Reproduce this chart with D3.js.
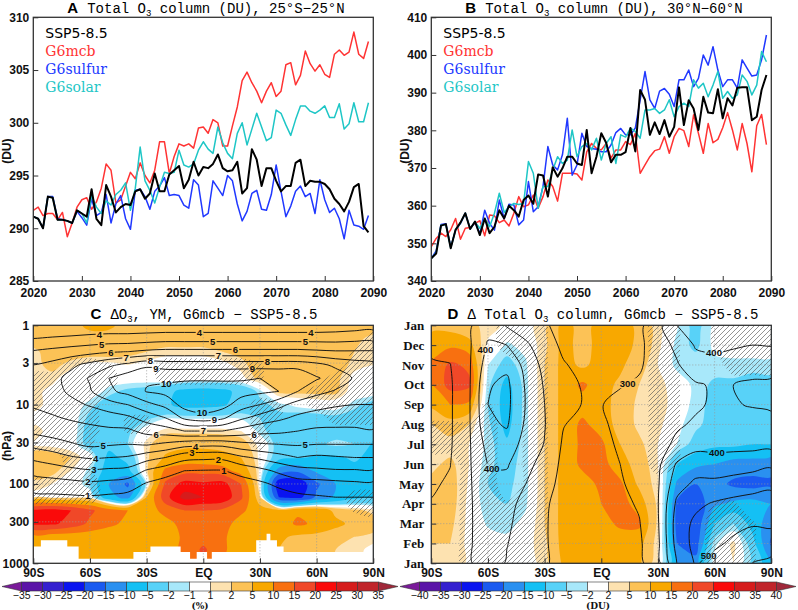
<!DOCTYPE html>
<html>
<head>
<meta charset="utf-8">
<script src="https://cdn.jsdelivr.net/npm/d3@7"></script>
<style>
  body { margin: 0; background: #fff; }
  svg { display: block; }
</style>
</head>
<body>
<svg id="fig" width="798" height="610"></svg>
<script>
const W = 798, H = 610;

// ---- panels A and B: yearly series 2020-2089 ----
const years = d3.range(2020, 2090);

const aSSP = [291.1, 290.9, 290.0, 293.0, 292.9, 290.8, 290.8, 290.7, 290.5, 291.7,
  291.4, 291.1, 293.7, 290.9, 290.3, 294.1, 293.0, 291.5, 292.0, 292.3,
  292.2, 293.5, 293.7, 292.8, 293.3, 295.2, 293.5, 293.5, 295.1, 295.5,
  295.9, 293.8, 294.6, 296.3, 295.0, 295.8, 295.7, 296.1, 297.0, 295.7,
  295.4, 295.5, 296.3, 293.3, 293.8, 297.5, 296.5, 294.0, 295.7, 295.7,
  294.5, 293.5, 294.0, 294.0, 296.2, 296.5, 294.0, 294.5, 294.4, 294.4,
  294.2, 293.7, 292.8, 292.3, 291.6, 292.5, 293.9, 294.2, 290.2, 289.6];
const aMcb = [291.7, 292.0, 291.2, 291.4, 291.4, 290.8, 291.5, 289.2, 290.5, 292.0,
  292.7, 292.9, 291.8, 292.5, 293.8, 296.1, 295.5, 292.4, 292.7, 294.0,
  295.3, 294.7, 296.2, 295.0, 294.3, 295.5, 298.2, 298.2, 295.2, 296.8,
  298.0, 297.8, 298.0, 297.6, 299.5, 299.6, 299.0, 300.3, 300.0, 297.8,
  297.8, 299.7, 301.5, 304.0, 304.8, 303.8, 303.0, 301.9, 303.0, 303.8,
  302.5, 303.0, 305.5, 305.7, 303.6, 304.5, 306.8, 305.6, 304.9, 305.5,
  304.6, 304.3, 306.5, 306.9, 306.4, 306.7, 308.6, 306.5, 306.1, 307.7];
const aSulfur = [291.1, 290.9, 290.0, 293.0, 293.0, 290.9, 290.8, 290.7, 290.5, 291.6,
  291.0, 290.3, 292.8, 291.2, 291.5, 293.2, 290.5, 292.3, 293.1, 290.9,
  289.9, 293.6, 293.7, 293.0, 291.8, 293.5, 294.0, 294.8, 293.1, 293.2,
  293.1, 292.2, 291.9, 294.6, 294.1, 291.1, 291.4, 294.5, 293.8, 293.1,
  295.0, 294.5, 292.3, 290.7, 291.6, 293.3, 293.6, 291.8, 291.7, 293.2,
  296.0, 293.5, 291.1, 292.1, 293.5, 294.0, 293.0, 293.3, 291.4, 294.6,
  292.7, 291.5, 291.9, 290.9, 289.0, 291.7, 290.3, 290.2, 289.9, 291.2];
const aSolar = [291.1, 290.9, 290.0, 293.0, 292.9, 290.8, 290.8, 290.7, 290.5, 291.7,
  291.4, 290.5, 293.1, 292.0, 291.4, 292.6, 292.2, 293.2, 293.6, 294.3,
  291.7, 293.8, 297.7, 294.5, 293.6, 292.4, 293.9, 295.3, 295.2, 295.3,
  297.4, 296.0, 295.8, 296.1, 297.4, 298.2, 297.5, 297.1, 299.6, 298.1,
  297.1, 296.6, 299.0, 300.0, 297.9, 299.4, 300.9, 299.6, 298.3, 298.6,
  301.2, 300.9, 299.8, 298.8, 300.3, 301.6, 301.6, 301.1, 300.9, 301.2,
  301.6, 300.5, 300.5, 301.8, 299.4, 299.9, 301.9, 300.1, 300.1, 301.9];

const bSSP = [346.0, 347.3, 354.7, 355.1, 348.7, 353.6, 355.5, 358.0, 353.8, 355.8,
  352.2, 356.6, 352.7, 354.4, 358.8, 356.6, 360.0, 358.8, 357.1, 361.5,
  362.7, 360.5, 368.3, 368.0, 362.4, 370.2, 367.7, 369.9, 373.0, 373.0,
  371.2, 370.8, 380.1, 368.6, 373.0, 379.2, 376.7, 371.5, 373.5, 373.5,
  374.2, 380.6, 374.4, 390.7, 388.1, 378.8, 382.1, 379.0, 382.7, 378.3,
  380.9, 391.4, 381.4, 388.0, 385.8, 380.1, 388.9, 384.7, 384.5, 390.9,
  383.2, 388.5, 386.6, 391.3, 391.4, 391.4, 382.7, 383.6, 390.7, 394.7];
const bMcb = [349.1, 351.3, 352.7, 351.8, 353.6, 356.6, 351.1, 354.0, 354.2, 355.3,
  356.0, 352.0, 357.5, 357.3, 355.5, 356.2, 354.6, 358.0, 362.4, 359.7,
  360.2, 362.8, 359.3, 362.4, 366.8, 365.1, 361.2, 368.6, 368.6, 368.6,
  368.4, 366.8, 374.3, 376.5, 375.2, 374.8, 376.5, 372.6, 374.8, 374.8,
  377.0, 376.2, 379.2, 368.6, 370.8, 373.0, 374.6, 375.0, 378.3, 373.9,
  378.3, 380.5, 379.9, 375.7, 384.1, 379.2, 373.9, 381.8, 376.7, 377.6,
  380.7, 384.7, 380.1, 374.8, 381.8, 376.5, 369.0, 381.2, 384.2, 376.2];
const bSulfur = [346.0, 348.0, 355.0, 355.2, 349.0, 353.5, 355.3, 358.0, 353.9, 355.6,
  352.5, 358.8, 355.3, 353.5, 361.5, 356.6, 360.4, 360.2, 354.9, 356.2,
  366.4, 358.4, 359.7, 365.1, 375.7, 370.8, 369.5, 373.5, 383.2, 368.1,
  370.8, 379.2, 375.7, 375.2, 375.0, 374.3, 374.3, 376.1, 379.4, 380.5,
  378.8, 378.8, 380.6, 388.1, 395.6, 388.1, 385.8, 390.4, 391.1, 389.6,
  386.3, 393.4, 393.4, 396.0, 391.6, 393.8, 400.0, 397.3, 402.2, 396.0,
  391.6, 393.4, 393.4, 391.2, 398.7, 396.5, 394.4, 394.7, 398.7, 405.3];
const bSolar = [346.0, 347.5, 354.8, 355.0, 348.8, 353.6, 355.4, 358.0, 353.8, 355.7,
  354.0, 356.6, 354.4, 358.0, 363.3, 358.2, 359.7, 360.6, 360.3, 360.6,
  371.7, 368.6, 359.3, 365.1, 365.1, 369.5, 373.0, 371.2, 372.1, 380.1,
  373.0, 375.7, 376.5, 374.8, 377.9, 372.1, 376.5, 378.3, 371.2, 378.8,
  378.2, 380.6, 379.7, 377.9, 385.4, 385.4, 385.8, 384.5, 385.4, 388.1,
  383.6, 386.3, 387.2, 386.3, 393.4, 391.2, 392.5, 388.9, 392.0, 395.6,
  388.5, 390.3, 388.5, 389.4, 394.7, 393.0, 389.4, 392.0, 400.9, 398.2];

// ---- panels C and D: lat grid 90S..90N every 10 deg ----
const latCols = d3.range(-90, 91, 10);
const latTicks = [-90, -60, -30, 0, 30, 60, 90];

// C: rows are pressure levels 10^(r/6) hPa, r = 0..18 (1 to 1000 hPa)
const cPressTicks = [1, 3, 10, 30, 100, 300, 1000];
const cLevels = [-35, -30, -25, -20, -15, -10, -5, -2, -1, 1, 2, 5, 10, 15, 20, 25, 30, 35];
const cDelta = [
  [3, 3, 3.5, 6, 6, 3, 3, 3, 3, 3, 3, 3, 3, 3, 3, 3, 3, 3, 3],
  [3, 3, 3, 3.5, 3, 3, 3, 3, 3, 3, 3, 3, 3, 3, 3, 3, 3, 2.5, 1.5],
  [1.5, 3, 3, 3, 3, 2.5, 2, 1.5, 1.5, 1.5, 2, 2.5, 3, 3, 3, 3, 3, 2, 1.5],
  [1.5, 2.5, 1.5, 0.5, 0.5, 1, 0.5, 0, 0, 0, 0.5, 1.5, 3, 3, 3, 3, 3, 1.5, 1],
  [1.5, 1.5, 0, 0, 0, 0, 0, 0.3, 0.3, 0.3, 0.3, 0.5, 2.5, 3, 3, 3, 2.5, 0.5, 0],
  [1.5, 0.5, 0, 0, -1.5, -2.5, -3, -4, -6, -6.5, -6, -4, -1.5, 2.5, 2.5, 2.5, 2.5, 0, 0],
  [1.5, 0.5, 0, -1.5, -3, -3.5, -3.5, -4.5, -6, -6, -5.5, -3.5, -2.5, -1.5, -0.5, 0, 0, -1.5, -3],
  [0.5, 0, 0, -2.5, -3.5, -3.5, -2.5, -1.2, -1.2, -1.2, -1.2, -1.2, -2, -2.5, -3, -3, -2.5, -3, -3.5],
  [1.5, 0.5, 0, -3, -3.5, -2.5, 0, 1.5, 1.5, 1.5, 1.5, 1, -1.5, -3, -3.5, -3.5, -3, -3.5, -4],
  [1, 0.5, 0, -3, -4, -2, 1.5, 3.5, 4, 4, 3.5, 3, 0.5, -3, -3.5, -2.5, -1.5, -2, -5.5],
  [3, 3, 2, 0, -6, -4, 1.5, 5.5, 7, 7, 6.5, 5, 0.5, -3.5, -4.5, -5.5, -5.5, -4.5, -6],
  [3, 2.5, 1, -1.5, -7, -6, 1.5, 11, 13, 13, 12, 8, 0.5, -12, -14, -9, -6, -6, -6],
  [1.5, 1, 0.5, -2, -10, -16, -1, 16, 22, 21, 22, 15, 0, -24, -24, -16, -10, -8, -8],
  [0.5, 0.5, 0.5, 0.3, -8, -12, 5, 18, 27, 25, 24, 16, 2, -20, -22, -14, -9, -6, -6],
  [21, 22, 20, 16, 12, 10, 7, 12, 15, 15, 14, 11, 7, 6, 9, 8, 4, 2.5, 1.5],
  [21, 21, 18, 14, 11, 9, 7, 8, 12, 13, 12, 8, 7, 7, 11, 9, 6, 4, 3],
  [8, 7, 7, 7, 7, 7, 7, 7, 11, 13, 11, 7, 6, 6, 4, 3.5, 3, 2, 1.5],
  [7, 7, 7, 7, 7, 7, 7, 8, 11, 16, 11, 7, 6, 5, 3, 3, 2, 1.5, 0.5],
  [7, 7, 7, 7, 7, 7, 7, 8, 10, 13, 10, 7, 6, 5, 3, 3, 2, 1.5, 0.5]
];
// ozone mixing ratio (ppmv) profiles, one per latitude, top (1 hPa) to bottom
const cO3ByLat = [
  [3.1, 4.0, 5.1, 6.0, 6.3, 6.3, 6.1, 5.7, 5.2, 4.3, 3.2, 2.3, 1.5, 0.75, 0.4, 0.15, 0.08, 0.05, 0.04],
  [3.2, 4.1, 5.3, 6.3, 6.7, 6.6, 6.3, 5.9, 5.4, 4.6, 3.5, 2.5, 1.6, 0.8, 0.4, 0.15, 0.08, 0.05, 0.04],
  [3.2, 4.2, 5.5, 6.8, 7.3, 7.2, 6.7, 6.1, 5.6, 4.9, 3.9, 2.7, 1.7, 0.85, 0.4, 0.15, 0.08, 0.05, 0.04],
  [3.3, 4.3, 5.7, 7.3, 8.1, 7.9, 7.1, 6.3, 5.7, 5.2, 4.1, 2.9, 1.8, 0.9, 0.4, 0.15, 0.08, 0.05, 0.04],
  [3.3, 4.4, 5.9, 7.8, 9.0, 8.8, 7.6, 6.5, 5.8, 5.1, 4.0, 2.8, 1.7, 0.8, 0.35, 0.15, 0.08, 0.05, 0.04],
  [3.3, 4.4, 6.0, 8.3, 9.5, 9.3, 8.0, 6.8, 5.8, 5.0, 3.9, 2.7, 1.5, 0.7, 0.3, 0.15, 0.08, 0.05, 0.04],
  [3.3, 4.5, 6.2, 8.8, 9.9, 10.05, 8.7, 7.4, 6.3, 5.1, 3.4, 1.9, 0.9, 0.4, 0.2, 0.1, 0.06, 0.04, 0.03],
  [3.3, 4.6, 6.3, 8.6, 9.8, 10.3, 9.3, 8.0, 6.5, 4.8, 3.0, 1.4, 0.6, 0.25, 0.1, 0.06, 0.04, 0.03, 0.03],
  [3.3, 4.6, 6.3, 8.6, 9.8, 10.7, 10.4, 9.2, 7.0, 4.4, 2.3, 1.0, 0.4, 0.15, 0.08, 0.05, 0.04, 0.03, 0.03],
  [3.3, 4.6, 6.3, 8.6, 9.8, 10.8, 10.7, 9.6, 7.0, 4.3, 2.2, 0.95, 0.35, 0.15, 0.08, 0.05, 0.04, 0.03, 0.03],
  [3.3, 4.6, 6.3, 8.6, 9.8, 10.7, 10.4, 9.2, 7.0, 4.3, 2.2, 0.95, 0.4, 0.15, 0.08, 0.05, 0.04, 0.03, 0.03],
  [3.3, 4.6, 6.3, 8.6, 9.9, 10.4, 9.5, 8.2, 6.6, 4.7, 2.8, 1.3, 0.6, 0.25, 0.1, 0.06, 0.04, 0.03, 0.03],
  [3.3, 4.6, 6.3, 8.6, 10.0, 10.2, 9.0, 7.6, 6.3, 4.9, 3.2, 1.7, 0.8, 0.35, 0.15, 0.08, 0.05, 0.04, 0.03],
  [3.3, 4.6, 6.3, 8.6, 9.9, 10.0, 8.3, 7.2, 6.2, 5.0, 3.6, 2.2, 1.2, 0.55, 0.2, 0.1, 0.06, 0.04, 0.03],
  [3.3, 4.6, 6.3, 8.6, 9.9, 9.0, 7.6, 6.8, 6.0, 5.1, 4.0, 2.6, 1.6, 0.75, 0.3, 0.12, 0.06, 0.04, 0.03],
  [3.3, 4.6, 6.2, 8.3, 9.1, 8.3, 7.3, 6.6, 5.8, 5.0, 3.8, 2.8, 1.6, 0.9, 0.35, 0.12, 0.06, 0.04, 0.03],
  [3.4, 4.6, 6.1, 7.8, 8.6, 7.9, 7.1, 6.5, 5.8, 5.0, 3.9, 2.9, 1.7, 1.0, 0.4, 0.12, 0.06, 0.04, 0.03],
  [3.5, 4.7, 6.1, 7.5, 7.9, 7.5, 7.0, 6.5, 5.8, 5.0, 4.0, 2.9, 1.8, 1.0, 0.4, 0.12, 0.06, 0.04, 0.03],
  [3.6, 4.7, 6.1, 7.3, 7.6, 7.4, 7.0, 6.6, 5.9, 5.0, 4.0, 2.9, 1.8, 1.0, 0.45, 0.12, 0.06, 0.04, 0.03]
];
const cO3Levels = d3.range(1, 11);
// contour label anchors: [level, lat, hPa]
const cLabels = [[4, -55, 1.22], [4, -2, 1.33], [4, 57, 1.2], [5, -54, 1.56], [5, 5, 1.69], [5, 54, 1.53],
  [6, -49, 1.9], [6, 17, 2.03], [7, -41, 2.34], [7, 8, 2.46], [8, -28, 2.74], [8, 34, 2.84],
  [9, -25, 3.32], [9, 26, 3.72], [10, -20, 4.53], [10, -1, 13.8], [9, 6, 16.7], [7, 0, 21.7],
  [6, -25, 25], [6, 27, 25], [5, -53, 33.6], [5, 54, 33.6], [4, -57, 46], [4, -4, 33],
  [3, -58, 63], [3, -6, 40.6], [2, -61, 86], [2, 8, 48.5], [1, -61, 128], [1, 11, 65]];
// 1 = not significant (hatched)
const cHatch = [
  [0, 0, 0, 0, 0, 0, 0, 0, 0, 0, 0, 0, 0, 0, 0, 0, 0, 0, 0],
  [0, 0, 0, 0, 0, 0, 0, 0, 0, 0, 0, 0, 0, 0, 0, 0, 0, 0, 1],
  [0, 0, 0, 0, 0, 0, 0, 0, 0, 0, 0, 0, 0, 0, 0, 0, 0, 0.6, 1],
  [0, 0, 1, 1, 0.6, 0, 0, 1, 1, 1, 1, 1, 0.6, 0, 0, 0, 0, 1, 1],
  [1, 1, 1, 1, 1, 0, 0, 1, 1, 1, 1, 1, 0.6, 0, 0, 0, 1, 1, 1],
  [1, 1, 1, 1, 0.6, 0, 0, 0, 0, 0, 0, 0, 0, 0, 0, 1, 1, 1, 1],
  [1, 1, 1, 1, 0, 0, 0, 0, 0, 0, 0, 0, 1, 0.6, 0, 1, 1, 1, 1],
  [1, 1, 1, 1, 0, 0.6, 0.6, 0, 0, 0, 0, 0, 1, 0.6, 0, 0, 1, 1, 1],
  [1, 1, 1, 1, 0, 0.6, 0.6, 0, 0, 0, 0, 0, 1, 0, 0, 0, 0, 0, 0],
  [1, 1, 1, 0.6, 0, 0, 0, 0, 0, 0, 0, 0, 1, 0, 0, 0, 0, 0, 0],
  [0, 0, 1, 0.6, 0, 0, 0, 0, 0, 0, 0, 0, 0, 0, 0, 0, 0, 0, 0],
  [0, 0, 1, 0.6, 0, 0, 0, 0, 0, 0, 0, 0, 0, 0, 0, 0, 0, 0, 0],
  [1, 1, 1, 1, 0, 0, 0, 0, 0, 0, 0, 0, 0, 0, 0, 0, 0, 0, 0],
  [1, 1, 1, 1, 0, 0, 0, 0, 0, 0, 0, 0, 0, 0, 0, 0, 0, 1, 1],
  [0, 0, 0, 0, 0, 0, 0, 0, 0, 0, 0, 0, 0, 0, 0, 0, 0, 0.6, 1],
  [0, 0, 0, 0, 0, 0, 0, 0, 0, 0, 0, 0, 0, 0, 0, 0, 0, 0, 0],
  [0, 0, 0, 0, 0, 0, 0, 0, 0, 0, 0, 0, 0, 0, 0, 0, 0, 0, 0],
  [0, 0, 0, 0, 0, 0, 0, 0, 0, 0, 0, 0, 0, 0, 0, 0, 0, 0, 0],
  [0, 0, 0, 0, 0, 0, 0, 0, 0, 0, 0, 0, 0, 0, 0, 0, 0, 0, 0]
];
// no data below the model surface: step edges (lat) and surface pressure (hPa)
const cMaskLat = [-90, -86, -72, -66, -37, -28, -12, -7, -3.5, 2, 4.5, 28, 33.5, 35.5, 39, 42.5, 90];
const cMaskP = [612, 514, 612, 876, 721, 612, 721, 876, 721, 876, 721, 514, 424, 514, 612, 721, 721];

// D: rows are months, Jan (bottom) ... Dec, Jan (top)
const monthLabels = ["Jan", "Feb", "Mar", "Apr", "May", "Jun", "Jul", "Aug", "Sep", "Oct", "Nov", "Dec", "Jan"];
const dLevels = [-40, -35, -30, -25, -20, -15, -10, -5, -2, 2, 5, 10, 15, 20, 25, 30, 35, 40];
const dDelta = [
  [4, 4, 1.5, 0.5, 0.5, 0.5, 3, 11, 11, 12, 12, 11, 2, -15, -18, 0, 2, -6, -14],
  [5, 5, 1, 0, -1, 0.5, 4, 12, 12, 12, 12, 12, 3, -20, -23, -3, 3, -8, -21],
  [6, 6, 1, -2.5, -3, -1, 5, 12, 12, 13, 16, 16, 4, -22, -24, -10, -5, -12, -18],
  [6, 7, 1, -4, -5, -2.5, 5, 12, 12, 15, 17, 13, 4, -21, -24, -16, -14, -13, -15],
  [6, 7, 1.5, -5, -6, -3, 5, 12, 13, 16, 16, 9, 3, -16, -20, -18, -21, -22, -21],
  [4, 6, 2, -4, -7, -3, 5, 12, 16, 17, 12, 8, 2, -10, -14, -15, -17, -17, -18],
  [2, 3, 2, -3, -9, -3, 5, 12, 16, 16, 10, 6, 2, -2, -7, -9, -9, -10, -10],
  [5, 8, 5, -4, -12, -3, 5, 12, 16, 13, 8, 4, 3, -1, -4, -7, -7, -7, -8],
  [11, 15, 14, -5, -13, -3, 5, 12, 13, 12, 8, 4, 4, 0, -3, -7, -7, -8, -8],
  [15, 22, 21, -4, -12, -3, 5, 12, 16, 12, 9, 5, 3, 0.5, -3, -6, -6, -8, -7],
  [16, 21, 19, -2, -7, -2.5, 5, 12, 9, 12, 11, 7, 2, -3, -3, -3, -3, -3, -3],
  [12, 14, 12, 1, -2.5, -1, 4, 12, 8, 12, 12, 9, 3, -3, -6, -1, 0, 0, 0],
  [9, 8, 6, 4, 1, 0.5, 4, 12, 8, 12, 12, 9, 3, -1.5, -7, -1, 0.5, 0, 0]
];
// total ozone climatology (DU), one list per latitude, Jan..Dec, Jan
const dClimByLat = [
  [315, 312, 308, 302, 295, 288, 282, 280, 278, 276, 295, 310, 315],
  [325, 322, 318, 312, 305, 299, 295, 294, 294, 294, 299, 312, 325],
  [343, 343, 343, 343, 343, 344, 344, 345, 345, 344, 344, 343, 343],
  [385, 383, 380, 382, 392, 402, 418, 440, 450, 446, 425, 405, 385],
  [345, 352, 358, 365, 385, 405, 430, 455, 462, 460, 440, 400, 345],
  [320, 325, 330, 335, 350, 365, 380, 392, 398, 395, 385, 360, 320],
  [305, 304, 304, 306, 318, 332, 348, 352, 350, 345, 335, 318, 305],
  [285, 283, 282, 283, 285, 288, 293, 302, 312, 310, 303, 292, 285],
  [272, 270, 268, 268, 270, 272, 276, 286, 299, 298, 290, 280, 272],
  [265, 263, 262, 263, 265, 268, 280, 293, 299, 298, 285, 272, 265],
  [275, 276, 280, 288, 295, 300, 310, 312, 308, 298, 288, 280, 275],
  [288, 292, 297, 305, 315, 322, 325, 322, 315, 305, 295, 290, 288],
  [335, 340, 345, 348, 345, 340, 335, 328, 320, 315, 318, 325, 335],
  [450, 470, 475, 460, 430, 405, 358, 345, 340, 338, 345, 362, 400],
  [505, 515, 510, 490, 460, 425, 385, 355, 345, 345, 380, 405, 430],
  [480, 510, 520, 505, 462, 420, 385, 365, 355, 355, 385, 410, 440],
  [470, 490, 515, 515, 470, 425, 385, 365, 352, 350, 380, 405, 430],
  [450, 470, 505, 520, 480, 430, 385, 362, 348, 342, 372, 400, 415],
  [440, 470, 510, 520, 490, 440, 385, 360, 345, 340, 370, 402, 410]
];
const dClimLevels = [250, 300, 350, 400, 450, 500, 550];
// label anchors: [level, lat, month index]
const dLabels = [[400, -58, 10.7], [400, -58, 4.8], [300, 13, 9.2], [400, 59, 10.3], [400, 61, 5.9], [500, 55, 0.6]];
const dHatch = [
  [0, 0, 1, 1, 1, 1, 0.6, 0, 0, 0, 0, 0, 0, 0, 0, 1, 1, 0.6, 0],
  [0, 0, 1, 1, 1, 1, 0.6, 0, 0, 0, 0, 0, 0, 0, 0, 1, 1, 0.6, 0],
  [0, 0, 1, 1, 1, 1, 0.6, 0, 0, 0, 0, 0, 0, 0, 0, 1, 1, 0.6, 0],
  [0, 0, 1, 1, 0.6, 1, 0.6, 0, 0, 0, 0, 0, 0, 0, 0, 0.6, 0.6, 0, 0],
  [0, 0, 1, 1, 0, 0.6, 0.6, 0, 0, 0, 0, 0, 0, 0, 0, 0, 0, 0, 0],
  [0, 0, 1, 1, 0, 0.6, 0.6, 0, 0, 0, 0, 0, 1, 0.6, 0, 0, 0, 0, 0],
  [1, 1, 1, 1, 0, 0.6, 0.6, 0, 0, 0, 0, 0, 1, 0.6, 0, 0, 0, 0, 0],
  [0.6, 0.6, 0.6, 1, 0, 0.6, 0.6, 0, 0, 0, 0, 0, 1, 0.6, 0, 0, 0, 0, 0],
  [0, 0, 0, 0.6, 0, 0.6, 0.6, 0, 0, 0, 0, 0, 1, 0.6, 0, 0, 0, 0, 0],
  [0, 0, 0, 0, 0, 0.6, 0.6, 0, 0, 0, 0, 0, 1, 0.6, 0, 0, 0, 0, 0],
  [0, 0, 0, 0, 0, 0.6, 0.6, 0, 0, 0, 0, 0, 1, 0.6, 0, 0, 1, 1, 1],
  [0, 0, 0, 0, 1, 0.6, 0.6, 0, 0, 0, 0, 0, 1, 0.6, 0, 0.6, 1, 1, 1],
  [0, 0, 0, 0, 1, 1, 0.6, 0, 0, 0, 0, 0, 1, 0.6, 0, 0.6, 1, 1, 1]
];

const palette = ["#7a1a9a", "#5b14a8", "#3520d0", "#0a14f0", "#1a5af0", "#2a90f0", "#14c0f4",
  "#58d2f8", "#a8e8fa", "#ffffff", "#fde2b0", "#fcc256", "#f8a800", "#f87010", "#f04828",
  "#fa0a0a", "#d61c1c", "#c0242a", "#a0283a"];

const SANS = "'Liberation Sans', Arial, sans-serif";
const MONO = "'Liberation Mono', monospace";

const svg = d3.select("#fig");
const defs = svg.append("defs");

const pat = defs.append("pattern").attr("id", "hatch")
  .attr("patternUnits", "userSpaceOnUse").attr("width", 5).attr("height", 5);
pat.append("path").attr("d", "M-1,6 L6,-1 M-1,1 L1,-1 M4,6 L6,4")
  .attr("stroke", "#4a4a4a").attr("stroke-width", 0.6);

const transpose = cols => cols[0].map((_, r) => cols.map(c => c[r]));
const cO3 = transpose(cO3ByLat);
const dClim = transpose(dClimByLat);

function styleAxis(g, font, size, weight) {
  g.select(".domain").remove();
  g.selectAll("line").attr("stroke", "#333");
  g.selectAll("text").attr("font-family", font).attr("font-size", size)
    .attr("font-weight", weight).attr("fill", "#111");
}

function title(cx, y, letter, parts) {
  const t = svg.append("text").attr("x", cx).attr("y", y).attr("text-anchor", "middle").attr("fill", "#000");
  t.append("tspan").attr("font-family", SANS).attr("font-weight", "bold").attr("font-size", 15).text(letter);
  parts.forEach((p, i) => {
    const s = t.append("tspan").attr("font-family", MONO).attr("font-size", 14);
    if (i === 0) s.attr("dx", 9);
    if (Array.isArray(p)) s.attr("font-size", 9).attr("dy", 3).text(p[0]);
    else s.attr("dy", i > 0 && Array.isArray(parts[i - 1]) ? -3 : null).text(p);
  });
}

function frame(b) {
  svg.append("rect").attr("x", b.left).attr("y", b.top)
    .attr("width", b.right - b.left).attr("height", b.bottom - b.top)
    .attr("fill", "none").attr("stroke", "#333").attr("stroke-width", 1.3);
}

function yLabel(x, y, text) {
  svg.append("text").attr("transform", `translate(${x},${y}) rotate(-90)`)
    .attr("text-anchor", "middle").attr("font-family", SANS).attr("font-weight", "bold")
    .attr("font-size", 12).attr("fill", "#111").text(text);
}

function linePanel(o) {
  const x = d3.scaleLinear([2020, 2090], [o.left, o.right]);
  const y = d3.scaleLinear(o.yDomain, [o.bottom, o.top]);
  const clipId = o.id + "-clip";
  defs.append("clipPath").attr("id", clipId).append("rect")
    .attr("x", o.left).attr("y", o.top).attr("width", o.right - o.left).attr("height", o.bottom - o.top);
  const line = d3.line().x((d, i) => x(years[i])).y(d => y(d));
  const plot = svg.append("g").attr("clip-path", `url(#${clipId})`);
  o.series.forEach(s => {
    plot.append("path").attr("d", line(s.values)).attr("fill", "none")
      .attr("stroke", s.color).attr("stroke-width", s.width).attr("stroke-linejoin", "round");
  });
  const ax = svg.append("g").attr("transform", `translate(0,${o.bottom})`)
    .call(d3.axisBottom(x).tickValues(d3.range(2020, 2091, 10)).tickFormat(d3.format("d"))
      .tickSizeInner(-5).tickSizeOuter(0).tickPadding(7));
  styleAxis(ax, SANS, 12, "bold");
  const ay = svg.append("g").attr("transform", `translate(${o.left},0)`)
    .call(d3.axisLeft(y).tickValues(o.yTicks).tickSizeInner(-5).tickSizeOuter(0).tickPadding(4));
  styleAxis(ay, SANS, 12, "bold");
  frame(o);
  yLabel(o.left - 22, (o.top + o.bottom) / 2 + 2, "(DU)");
  // legend: SSP5-8.5 first, then the three G6 experiments
  const order = ["SSP5-8.5", "G6mcb", "G6sulfur", "G6solar"];
  order.forEach((name, i) => {
    const s = o.series.find(d => d.name === name);
    svg.append("text").attr("x", o.left + 12).attr("y", o.top + 21 + i * 18)
      .attr("font-family", i === 0 ? "'DejaVu Sans', sans-serif" : "'DejaVu Serif', serif")
      .attr("font-size", 14).attr("fill", s.color).text(s.name);
  });
}

function smoothPath(geom, px, py) {
  const line = d3.line().curve(d3.curveCatmullRomClosed.alpha(0.5));
  let d = "";
  geom.coordinates.forEach(poly => poly.forEach(ring => {
    const pts = ring.slice(0, -1).map(p => [px(p[0]), py(p[1])]);
    if (pts.length > 2) d += line(pts);
  }));
  return d;
}

// nearest point to (ax, ay) on the polyline rings of a contour, inside the plot box
function nearestOnContour(geom, px, py, ax, ay, b) {
  let best = null, bd = Infinity;
  geom.coordinates.forEach(poly => poly.forEach(ring => {
    const pts = ring.map(p => [px(p[0]), py(p[1])]);
    for (let i = 0; i < pts.length - 1; i++) {
      const [x0, y0] = pts[i], [x1, y1] = pts[i + 1];
      const dx = x1 - x0, dy = y1 - y0, l2 = dx * dx + dy * dy;
      let t = l2 > 0 ? ((ax - x0) * dx + (ay - y0) * dy) / l2 : 0;
      t = Math.max(0, Math.min(1, t));
      const X = x0 + t * dx, Y = y0 + t * dy;
      if (X < b.left + 5 || X > b.right - 5 || Y < b.top + 5 || Y > b.bottom - 5) continue;
      const d = (X - ax) ** 2 + (Y - ay) ** 2;
      if (d < bd) { bd = d; best = [X, Y]; }
    }
  }));
  return best;
}

function fieldPanel(o) {
  const nx = latCols.length, ny = o.fill.length;
  const px = c => o.x(-90 + (c - 0.5) * 10);
  const py = c => o.y(o.rowValue(c - 0.5));
  const clipId = o.id + "-clip";
  defs.append("clipPath").attr("id", clipId).append("rect")
    .attr("x", o.left).attr("y", o.top).attr("width", o.right - o.left).attr("height", o.bottom - o.top);
  const plot = svg.append("g").attr("clip-path", `url(#${clipId})`);
  plot.append("rect").attr("x", o.left).attr("y", o.top)
    .attr("width", o.right - o.left).attr("height", o.bottom - o.top).attr("fill", palette[0]);

  const filled = d3.contours().size([nx, ny]).thresholds(o.levels)(o.fill.flat());
  filled.forEach((c, k) => {
    plot.append("path").attr("d", smoothPath(c, px, py))
      .attr("fill", palette[k + 1]).attr("fill-rule", "evenodd");
  });

  const hatch = d3.contours().size([nx, ny]).thresholds([0.5])(o.hatch.flat())[0];
  plot.append("path").attr("d", smoothPath(hatch, px, py))
    .attr("fill", "url(#hatch)").attr("fill-rule", "evenodd");

  if (o.below) o.below(plot);

  // dotted grid
  o.gridX.forEach(v => plot.append("line").attr("x1", o.x(v)).attr("x2", o.x(v))
    .attr("y1", o.top).attr("y2", o.bottom).attr("stroke", "#999").attr("stroke-width", 0.8)
    .attr("stroke-dasharray", "1,2"));
  o.gridY.forEach(v => plot.append("line").attr("y1", o.y(v)).attr("y2", o.y(v))
    .attr("x1", o.left).attr("x2", o.right).attr("stroke", "#999").attr("stroke-width", 0.8)
    .attr("stroke-dasharray", "1,2"));

  // contour lines with label gaps
  const lines = d3.contours().size([nx, ny]).thresholds(o.lineLevels)(o.lines.flat());
  const maskId = o.id + "-mask";
  const mask = defs.append("mask").attr("id", maskId).attr("maskUnits", "userSpaceOnUse")
    .attr("x", 0).attr("y", 0).attr("width", W).attr("height", H);
  mask.append("rect").attr("width", W).attr("height", H).attr("fill", "#fff");
  const lineG = plot.append("g").attr("mask", `url(#${maskId})`);
  lines.forEach(c => {
    lineG.append("path").attr("d", smoothPath(c, px, py)).attr("fill", "none")
      .attr("stroke", "#111").attr("stroke-width", 0.95);
  });
  o.labels.forEach(([lev, lat, yv]) => {
    const c = lines.find(l => l.value === lev);
    if (!c) return;
    const best = nearestOnContour(c, px, py, o.x(lat), o.y(yv), o);
    if (!best) return;
    const txt = String(lev);
    const w = txt.length * 5.6 + 2;
    mask.append("rect").attr("x", best[0] - w / 2).attr("y", best[1] - 5)
      .attr("width", w).attr("height", 10).attr("fill", "#000");
    plot.append("text").attr("x", best[0]).attr("y", best[1]).attr("dy", "0.36em")
      .attr("text-anchor", "middle").attr("font-family", SANS).attr("font-weight", "bold")
      .attr("font-size", 9.5).attr("fill", "#111").text(txt);
  });

  // axes
  const latFmt = d => d === 0 ? "EQ" : Math.abs(d) + (d < 0 ? "S" : "N");
  const ax = svg.append("g").attr("transform", `translate(0,${o.bottom})`)
    .call(d3.axisBottom(o.x).tickValues(latTicks).tickFormat(latFmt)
      .tickSizeInner(-5).tickSizeOuter(0).tickPadding(5));
  styleAxis(ax, SANS, 12, "bold");
  const ay = svg.append("g").attr("transform", `translate(${o.left},0)`)
    .call(d3.axisLeft(o.y).tickValues(o.yTicks).tickFormat(o.yFormat)
      .tickSizeInner(-5).tickSizeOuter(0).tickPadding(o.yPad));
  styleAxis(ay, o.yFont, o.yFontSize, "bold");
  frame(o);
}

function colorbar(x0, x1, y0, y1, levels, unit, tipL, tipR) {
  const n = levels.length - 1;
  const bw = (x1 - x0) / n;
  const g = svg.append("g");
  const ym = (y0 + y1) / 2;
  g.append("path").attr("d", `M${x0},${y0}L${tipL},${ym}L${x0},${y1}Z`)
    .attr("fill", palette[0]).attr("stroke", "#333").attr("stroke-width", 0.6);
  g.append("path").attr("d", `M${x1},${y0}L${tipR},${ym}L${x1},${y1}Z`)
    .attr("fill", palette[palette.length - 1]).attr("stroke", "#333").attr("stroke-width", 0.6);
  d3.range(n).forEach(i => {
    g.append("rect").attr("x", x0 + i * bw).attr("y", y0).attr("width", bw).attr("height", y1 - y0)
      .attr("fill", palette[i + 1]).attr("stroke", "#333").attr("stroke-width", 0.6);
  });
  levels.forEach((v, i) => {
    g.append("text").attr("x", x0 + i * bw).attr("y", y1 + 7.5).attr("text-anchor", "middle")
      .attr("font-family", SANS).attr("font-size", 10.5).attr("fill", "#111")
      .text(v < 0 ? "\u2212" + Math.abs(v) : String(v));
  });
  g.append("text").attr("x", (x0 + x1) / 2).attr("y", 608.5).attr("text-anchor", "middle")
    .attr("font-family", "'DejaVu Serif', serif").attr("font-weight", "bold")
    .attr("font-size", 9).attr("fill", "#111").text(unit);
}

// ---- A ----
const PA = { left: 33.3, right: 373.3, top: 17.3, bottom: 281 };
linePanel({ ...PA, id: "pa", yDomain: [285, 310], yTicks: d3.range(285, 311, 5),
  series: [
    { name: "G6mcb", values: aMcb, color: "#ff3333", width: 1.5 },
    { name: "G6sulfur", values: aSulfur, color: "#2038ff", width: 1.5 },
    { name: "G6solar", values: aSolar, color: "#1ec6c6", width: 1.5 },
    { name: "SSP5-8.5", values: aSSP, color: "#000000", width: 2 }
  ] });
title(206, 13, "A", ["Total O", ["3"], " column (DU), 25\u00b0S\u221225\u00b0N"]);

// ---- B ----
const PB = { left: 431.3, right: 771.3, top: 17.3, bottom: 281 };
linePanel({ ...PB, id: "pb", yDomain: [340, 410], yTicks: d3.range(340, 411, 10),
  series: [
    { name: "G6mcb", values: bMcb, color: "#ff3333", width: 1.5 },
    { name: "G6sulfur", values: bSulfur, color: "#2038ff", width: 1.5 },
    { name: "G6solar", values: bSolar, color: "#1ec6c6", width: 1.5 },
    { name: "SSP5-8.5", values: bSSP, color: "#000000", width: 2 }
  ] });
title(604, 13, "B", ["Total O", ["3"], " column (DU), 30\u00b0N\u221260\u00b0N"]);

// ---- C ----
const PC = { left: 33.3, right: 373.3, top: 325.3, bottom: 563.3 };
const xC = d3.scaleLinear([-90, 90], [PC.left, PC.right]);
const yC = d3.scaleLog([1, 1000], [PC.top, PC.bottom]);
fieldPanel({ ...PC, id: "pc", x: xC, y: yC, rowValue: r => Math.pow(10, r / 6),
  fill: cDelta, levels: cLevels, hatch: cHatch, lines: cO3, lineLevels: cO3Levels, labels: cLabels,
  gridX: [-60, -30, 0, 30, 60], gridY: [3, 10, 30, 100, 300],
  yTicks: cPressTicks, yFormat: d3.format("d"), yPad: 4, yFont: SANS, yFontSize: 12,
  below: plot => {
    const area = d3.area().curve(d3.curveStepAfter)
      .x((d, i) => xC(cMaskLat[i])).y0(PC.bottom + 2).y1(d => yC(d));
    plot.append("path").attr("d", area(cMaskP)).attr("fill", "#fff");
  } });
yLabel(11, 446, "(hPa)");
title(204, 319, "C", ["\u0394O", ["3"], ", YM, G6mcb \u2212 SSP5-8.5"]);
colorbar(21.7, 378.3, 582, 591, cLevels, "(%)", 2, 398);

// ---- D ----
const PD = { left: 431.3, right: 771.3, top: 325.3, bottom: 563.3 };
const xD = d3.scaleLinear([-90, 90], [PD.left, PD.right]);
const yD = d3.scaleLinear([0, 12], [PD.bottom, PD.top]);
fieldPanel({ ...PD, id: "pd", x: xD, y: yD, rowValue: r => r,
  fill: dDelta, levels: dLevels, hatch: dHatch, lines: dClim, lineLevels: dClimLevels, labels: dLabels,
  gridX: [-60, -30, 0, 30, 60], gridY: d3.range(1, 12),
  yTicks: d3.range(0, 13), yFormat: i => monthLabels[i], yPad: 7,
  yFont: "'Liberation Serif', serif", yFontSize: 13 });
title(603, 319, "D", ["\u0394 Total O", ["3"], " column, G6mcb \u2212 SSP5-8.5"]);
colorbar(419.7, 776.3, 582, 591, dLevels, "(DU)", 400, 796);
</script>
</body>
</html>
